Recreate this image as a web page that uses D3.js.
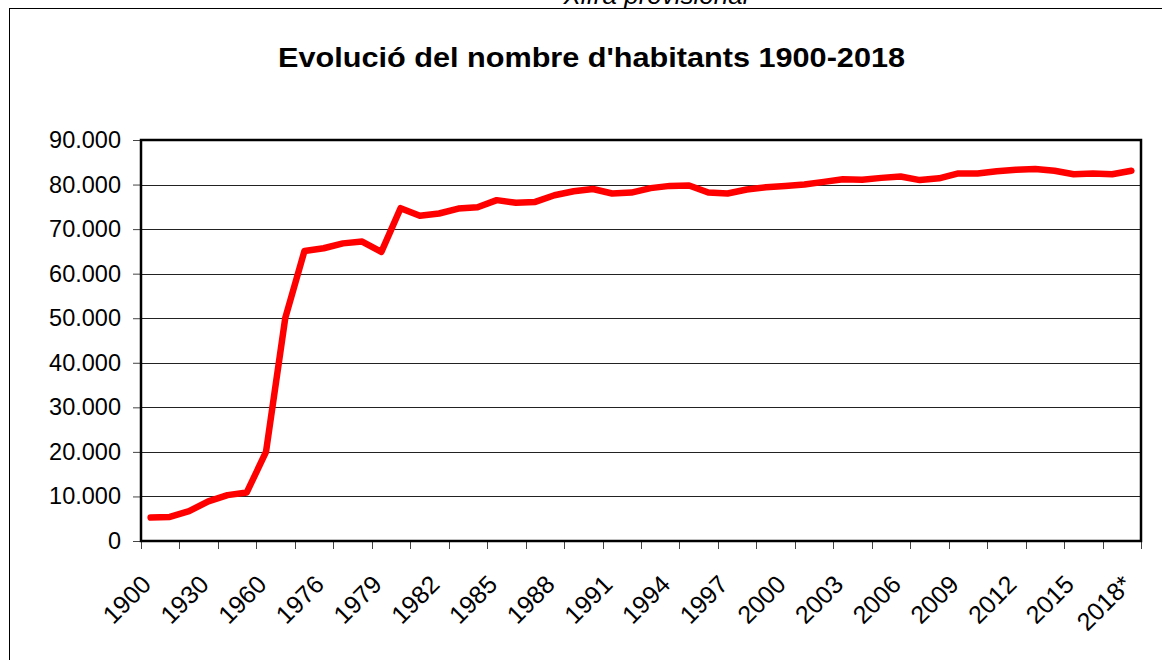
<!DOCTYPE html>
<html>
<head>
<meta charset="utf-8">
<script src="https://cdn.jsdelivr.net/npm/d3@7"></script>
<style>
  body { margin: 0; background: #fff; }
  svg text { font-family: "Liberation Sans", Arial, sans-serif; }
</style>
</head>
<body>
<div id="chart"></div>
<script>
(function() {
  var width = 1162,
    height = 660;

  // categories (years), the last one is a provisional figure
  var years = ["1900", "1910", "1920", "1930", "1940", "1950", "1960", "1970", "1975",
    "1976", "1977", "1978", "1979", "1980", "1981", "1982", "1983", "1984", "1985",
    "1986", "1987", "1988", "1989", "1990", "1991", "1992", "1993", "1994", "1995",
    "1996", "1997", "1998", "1999", "2000", "2001", "2002", "2003", "2004", "2005",
    "2006", "2007", "2008", "2009", "2010", "2011", "2012", "2013", "2014", "2015",
    "2016", "2017", "2018*"];

  var habitants = [5250, 5400, 6700, 8900, 10300, 10900, 20000, 50000, 65100,
    65700, 66800, 67200, 64900, 74700, 73000, 73500, 74600, 74900, 76500,
    75900, 76100, 77600, 78500, 79000, 78000, 78200, 79200, 79700, 79800,
    78200, 78000, 78900, 79400, 79700, 80000, 80600, 81200, 81100, 81500,
    81800, 81000, 81400, 82500, 82500, 83000, 83300, 83500, 83100, 82300,
    82500, 82300, 83100];

  var yTicks = [0, 10000, 20000, 30000, 40000, 50000, 60000, 70000, 80000, 90000];

  var margin = { left: 141, right: 21, top: 140, bottom: 119 };
  var plotW = width - margin.left - margin.right,
    plotH = height - margin.top - margin.bottom;

  var svg = d3.select("#chart")
    .append("svg")
    .attr("width", width)
    .attr("height", height)

  // outer chart frame
  svg.append("rect")
    .attr("x", 9.5)
    .attr("y", 8.5)
    .attr("width", 1200)
    .attr("height", 700)
    .attr("fill", "none")
    .attr("stroke", "#000")
    .attr("stroke-width", 1)

  // note above the frame, partly cut off at the top edge as in the original
  svg.append("text")
    .attr("x", 656)
    .attr("y", 4)
    .attr("text-anchor", "middle")
    .attr("font-size", 26)
    .attr("font-style", "italic")
    .text("Xifra provisional")

  svg.append("text")
    .attr("x", 278)
    .attr("y", 67)
    .attr("font-size", 27)
    .attr("font-weight", "bold")
    .attr("textLength", 627)
    .attr("lengthAdjust", "spacingAndGlyphs")
    .text("Evolució del nombre d'habitants 1900-2018")

  var g = svg.append("g")
    .attr("transform", "translate(" + margin.left + "," + margin.top + ")")

  var x = d3.scaleBand().domain(years).range([0, plotW]).padding(0)
  var y = d3.scaleLinear().domain([0, 90000]).range([plotH, 0])

  var fmt = function(v) {
    return d3.format(",")(v).replace(/,/g, ".")
  }

  // gridlines
  g.selectAll(".grid")
    .data(yTicks)
    .enter().append("line")
    .attr("class", "grid")
    .attr("x1", 0)
    .attr("x2", plotW)
    .attr("y1", function(d) { return Math.round(y(d)) + 0.5 })
    .attr("y2", function(d) { return Math.round(y(d)) + 0.5 })
    .attr("stroke", "#222")
    .attr("stroke-width", 1)

  // y axis
  var yAxis = d3.axisLeft(y)
    .tickValues(yTicks)
    .tickFormat(fmt)
    .tickSize(8)
    .tickPadding(12)

  var ya = g.append("g").call(yAxis)
  ya.select(".domain").remove()
  ya.selectAll("text").attr("font-size", 23.5).attr("fill", "#000")
    .attr("font-family", "Liberation Sans, Arial, sans-serif")
  ya.selectAll("line").attr("stroke", "#444")

  // x axis: tick marks every 2 categories, labels every 3
  var tickPos = d3.range(0, years.length + 1, 2)
  g.selectAll(".xtick")
    .data(tickPos)
    .enter().append("line")
    .attr("class", "xtick")
    .attr("x1", function(i) { return Math.round(i * x.step()) + 0.5 })
    .attr("x2", function(i) { return Math.round(i * x.step()) + 0.5 })
    .attr("y1", plotH)
    .attr("y2", plotH + 8)
    .attr("stroke", "#444")

  var labelled = years.filter(function(d, i) { return i % 3 === 0 })
  g.selectAll(".xlabel")
    .data(labelled)
    .enter().append("text")
    .attr("class", "xlabel")
    .attr("text-anchor", "end")
    .attr("font-size", 25)
    .attr("transform", function(d) {
      var cx = x(d) + x.bandwidth() / 2
      return "translate(" + (cx + 2) + "," + (plotH + 45) + ") rotate(-45)"
    })
    .text(function(d) { return d })

  // plot frame
  g.append("rect")
    .attr("x", 0)
    .attr("y", 0)
    .attr("width", plotW)
    .attr("height", plotH)
    .attr("fill", "none")
    .attr("stroke", "#000")
    .attr("stroke-width", 2.5)

  var line = d3.line()
    .x(function(d, i) { return x(years[i]) + x.bandwidth() / 2 })
    .y(function(d) { return y(d) })

  g.append("path")
    .datum(habitants)
    .attr("d", line)
    .attr("fill", "none")
    .attr("stroke", "#ff0000")
    .attr("stroke-width", 6.5)
    .attr("stroke-linejoin", "round")
    .attr("stroke-linecap", "round")

})();
</script>
</body>
</html>
